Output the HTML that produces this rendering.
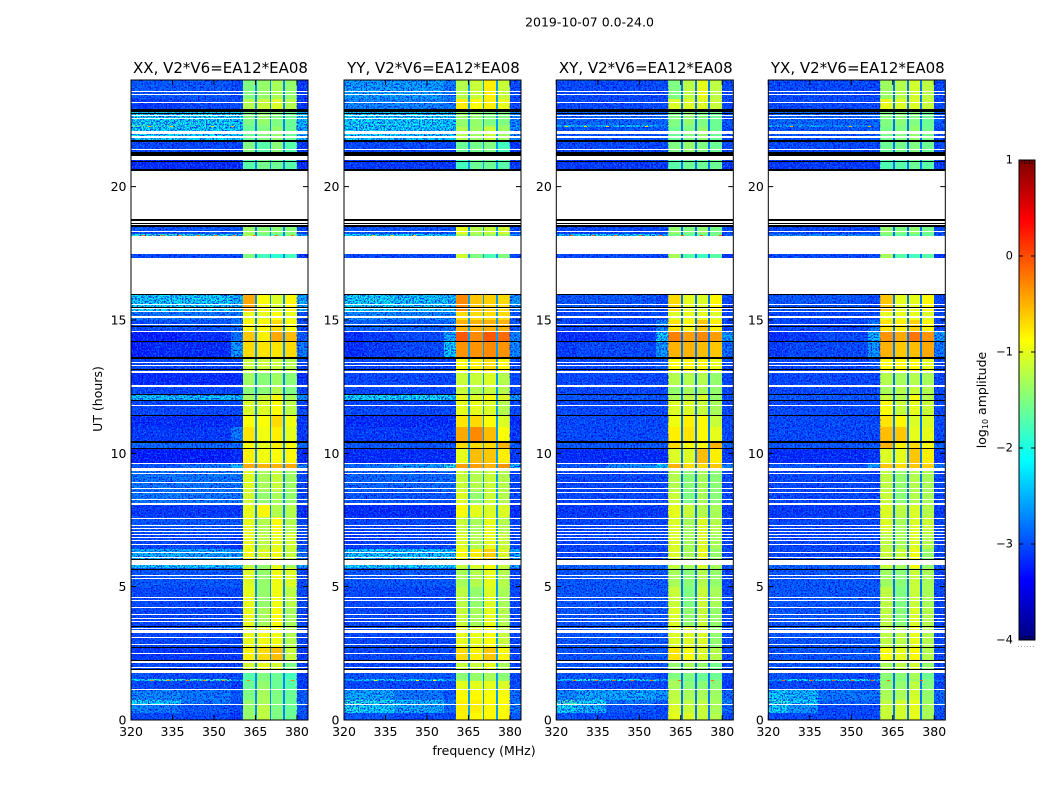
<!DOCTYPE html>
<html lang="en">
<head>
<meta charset="utf-8">
<title>2019-10-07 0.0-24.0 amplitude spectrograms</title>
<style>
html,body{margin:0;padding:0;background:#fff;}
svg{display:block;}
text{font-family:"DejaVu Sans","Liberation Sans",sans-serif;fill:#000;}
</style>
</head>
<body>
<svg id="chart" xmlns="http://www.w3.org/2000/svg" width="1050" height="800" viewBox="0 0 1050 800">
<defs>
<filter id="speckleLight" x="0" y="0" width="100%" height="100%" color-interpolation-filters="sRGB">
<feTurbulence type="fractalNoise" baseFrequency="0.62" numOctaves="2" seed="4"/>
<feColorMatrix type="matrix" values="0 0 0 0 0  0 0 0 0 0.62  0 0 0 0 1  6 0 0 0 -3"/>
</filter>
<filter id="speckleDark" x="0" y="0" width="100%" height="100%" color-interpolation-filters="sRGB">
<feTurbulence type="fractalNoise" baseFrequency="0.62" numOctaves="2" seed="11"/>
<feColorMatrix type="matrix" values="0 0 0 0 0  0 0 0 0 0  0 0 0 0 0.9  6 0 0 0 -2.8"/>
</filter>
</defs>
<text x="589.5" y="26.5" font-size="12.5" text-anchor="middle">2019-10-07 0.0-24.0</text>
<text x="484" y="755" font-size="12.5" text-anchor="middle">frequency (MHz)</text>
<text x="0" y="0" font-size="12.5" text-anchor="middle" transform="translate(102 399) rotate(-90)">UT (hours)</text>
<text x="0" y="0" font-size="12.5" text-anchor="middle" transform="translate(986 400) rotate(-90)">log<tspan font-size="8" dy="2">10</tspan><tspan dy="-2"> amplitude</tspan></text>
<g id="panels"></g>
<g id="colorbar"></g>
</svg>
<script>
// ---- shared axis data ----
const panelTitles = ["XX, V2*V6=EA12*EA08", "YY, V2*V6=EA12*EA08", "XY, V2*V6=EA12*EA08", "YX, V2*V6=EA12*EA08"];
const hourTicks = [0, 5, 10, 15, 20];
const freqTicks = [320, 335, 350, 365, 380];
const colorbarTicks = [1, 0, -1, -2, -3, -4];
const freqEdges = [320, 327, 338, 356, 360.4, 365, 365.7, 370.2, 370.7, 375, 375.6, 380, 384];
const hourEdges = [0,.25,.55,.75,1.15,1.47,1.53,1.85,2.25,2.7,3.5,4.2,5,5.7,5.85,6.4,7,7.6,8.15,8.6,9.35,9.65,10.2,10.45,11,11.45,12,12.2,12.55,13.05,13.6,14.2,14.6,15,15.3,16,17.33,17.49,18.16,18.24,18.55,20.6,21.25,21.75,22.25,22.3,22.9,23.3,24];
// flagged time ranges, in hours, shared by all polarisations
const whiteBlocks = [[20.61,18.5],[18.16,17.49],[17.33,15.99],[21.15,21.0],[6.0,5.83],[9.46,9.33],[8.15,8.08],[3.36,3.28],[2.2,2.12],[1.9,1.78],[22.07,21.99],[15.15,15.09],[13.07,13.0],[12.57,12.49]];
const whiteLines = [23.56,23.45,23.15,22.67,22.56,21.88,21.83,21.41,18.34,15.6,15.42,15.33,14.84,14.58,13.41,13.28,11.8,9.63,9.23,8.92,8.69,8.52,8.27,7.56,7.3,7.2,7.09,6.96,6.83,6.73,6.57,6.27,6.1,5.44,5.31,4.6,4.48,4.22,3.96,3.81,3.71,3.43,3.08,2.83,2.48,1.99,1.16,.58];
const blackBlocks = [[22.9,22.8],[22.78,22.72],[21.75,21.68],[21.3,21.16],[20.65,20.59],[18.78,18.7],[18.65,18.59],[18.55,18.5],[15.99,15.96],[13.62,13.55],[10.47,10.39]];
const blackLines = [20.96,15.49,14.76,14.19,13.15,12.2,12.0,11.44,10.19,6.02,5.65,3.51,2.74,2.25,1.9];
// narrowband interference on single rows: panel index, hour, log10 amplitude, frequencies
const rfiRows = [
[0, 1.5, -0.3, [327,333,340,346,353,362,378]],
[0, 18.2, -0.2, [324,331,337,344,350,357,364,372,378]],
[0, 22.27, -0.6, [326,334,349,356]],
[1, 1.5, -0.9, [331,346,352]],
[1, 18.2, -0.6, [330,337,345]],
[2, 1.5, -0.2, [326,334,340,347,354,364,376]],
[2, 18.2, -0.1, [325,333,341,350,357,365,372,379]],
[2, 22.27, -0.7, [323,330,338,352]],
[3, 1.5, -0.1, [325,335,343,350,357,363,375]],
[3, 22.27, -0.5, [328,349,356]]
];
// log10 amplitude by time segment: 320-327, 327-338, 338-356, 356-360, four bright sub-bands, 380-384
const xxLevels = [
[-3,-3,-3,-3.1,-1.4,-1.2,-1.5,-1.6,-3],
[-2.6,-2.7,-2.9,-3,-1.4,-1.2,-1.5,-1.6,-2.9],
[-2.1,-2.2,-2.7,-3,-1.4,-1.3,-1.5,-1.6,-2.8],
[-2.6,-2.6,-2.7,-2.9,-1.5,-1.3,-1.5,-1.6,-2.9],
[-3,-3,-3,-3.1,-1.6,-1.4,-1.6,-1.7,-3.1],
[-2.2,-1.8,-1.8,-2.4,-1.7,-1.5,-1.6,-1.7,-3],
[-2.9,-3,-3,-3,-1.7,-1.5,-1.6,-1.8,-3.1],
[-3,-3,-3,-3,-1.1,-1,-1.1,-1.5,-3.1],
[-3.1,-3.1,-3.1,-3.1,-.8,-.7,-.55,-1.15,-3.1],
[-3,-3,-3,-3,-1,-.95,-.95,-1.25,-3],
[-3,-3,-3,-3,-1,-1.3,-.9,-1.3,-3],
[-3,-3,-3,-3,-1,-1.4,-.95,-1.2,-3],
[-2.9,-2.9,-2.9,-2.9,-1.05,-1.4,-.95,-1.05,-3],
[-2.2,-2.2,-2.2,-2.2,-1.2,-1.4,-1,-1.3,-2.4],
[-2.35,-2.35,-2.4,-2.5,-.95,-1.05,-.95,-1.15,-2.7],
[-3,-3,-3,-3.1,-1,-1.2,-1,-1.1,-3],
[-2.9,-2.9,-2.9,-2.9,-1,-1.25,-.9,-1.25,-3],
[-3.1,-3.1,-3.1,-3.1,-1,-.85,-1.25,-1.25,-3.2],
[-2.7,-2.7,-2.7,-2.7,-1.1,-1.4,-1.3,-1.4,-3],
[-2.7,-2.7,-2.7,-2.7,-1.05,-1.3,-1.15,-1.35,-3],
[-2.9,-2.9,-2.7,-2.3,-.45,-.5,-.5,-.45,-2.6],
[-3.3,-3.3,-3.3,-3.2,-.8,-.95,-.9,-.85,-3.2],
[-2.8,-2.8,-2.8,-2.8,-.9,-1,-.8,-.9,-2.8],
[-3.1,-3.1,-3.1,-2.7,-.75,-.95,-.8,-1,-3.1],
[-3.2,-3.2,-3.2,-3.1,-.9,-.9,-.7,-.95,-3.1],
[-3,-3,-3,-3,-1.05,-1.05,-.9,-1.2,-3],
[-2.25,-2.25,-2.25,-2.3,-1.3,-1.15,-.85,-1.3,-2.6],
[-3,-3,-3,-3,-1.45,-1.45,-1.25,-1.5,-3],
[-3.2,-3.2,-3.2,-3.2,-1.35,-1.45,-1.35,-1.45,-3.2],
[-3,-3,-3,-3,-1.15,-1.15,-1.15,-1.25,-3],
[-3.3,-3.2,-3.2,-2.5,-.7,-.75,-.75,-.7,-2.7],
[-3.3,-3.3,-3.2,-2.7,-.6,-.8,-.45,-.55,-2.9],
[-3,-2.9,-2.9,-2.7,-.85,-.85,-.7,-.9,-3],
[-2.7,-2.7,-2.7,-2.7,-1,-1,-.9,-1,-3],
[-2.15,-2.15,-2.15,-2.3,-.45,-.9,-1.05,-.85,-2.4],
null,
[-3,-3,-3,-3,-1.5,-1.8,-1.9,-1.8,-3.1],
null,
[-1.9,-1.8,-1.9,-2.2,-1.3,-1.6,-1.7,-1.5,-2.5],
[-2.9,-2.9,-2.9,-2.9,-1.35,-1.45,-1.45,-1.45,-3],
null,
[-3.2,-3.2,-3.2,-3.2,-1.7,-1.55,-1.6,-1.7,-3.2],
[-3,-3,-3,-3,-1.5,-1.7,-1.45,-1.7,-3.1],
[-2.1,-2.1,-2.1,-2.15,-1.6,-1.5,-1.4,-1.6,-2.4],
[-1.8,-1.9,-2,-2.1,-1.6,-1.5,-1.5,-1.6,-2.3],
[-2.05,-2.05,-2.05,-2.1,-1.5,-1.4,-1.5,-1.6,-2.3],
[-3.1,-3.1,-3,-3,-1.25,-1.15,-1.05,-1.25,-3.1],
[-2.9,-2.9,-2.9,-3,-1.5,-1.4,-1.3,-1.4,-3.1]
];
const yyLevels = [
[-2.9,-2.9,-3,-3,-.8,-.85,-.85,-.85,-2.9],
[-2,-2.15,-2.4,-2.8,-.8,-.8,-.85,-.9,-2.7],
[-1.9,-2,-2.3,-2.7,-.8,-.8,-.85,-.9,-2.7],
[-2.4,-2.4,-2.7,-2.9,-.85,-.85,-.9,-.9,-2.8],
[-3,-3,-3,-3,-1,-1,-1,-1.05,-3],
[-2.4,-2.2,-2.2,-2.5,-1.4,-1.4,-1.3,-1.4,-2.9],
[-2.9,-2.9,-2.9,-2.9,-1.45,-1.4,-1.3,-1.45,-3],
[-3,-3,-3,-3,-1.15,-1.15,-1,-1.3,-3],
[-3,-3,-3,-3,-.7,-.8,-.6,-.85,-3],
[-3,-3,-3,-3,-1,-1,-.9,-1.15,-3],
[-3,-3,-3,-3,-1.15,-1.3,-1,-1.25,-3],
[-3,-3,-3,-3,-1.2,-1.4,-1.05,-1.3,-3],
[-2.9,-2.9,-2.9,-2.9,-1.3,-1.25,-1,-1.25,-3],
[-2.1,-2.1,-2.1,-2.1,-1.15,-1.05,-.9,-1.15,-2.4],
[-2.2,-2.2,-2.2,-2.25,-.9,-.8,-.65,-1.05,-2.4],
[-3.1,-3,-3,-3,-1.05,-1.25,-1,-1.15,-3],
[-3,-3,-3,-3,-1.15,-1.3,-1,-1.25,-3],
[-3.2,-3.2,-3.2,-3.2,-.9,-1,-1.05,-1.05,-3.2],
[-2.9,-2.9,-2.9,-2.9,-1.05,-1.4,-1.15,-1.25,-3],
[-2.8,-2.8,-2.8,-2.8,-1.15,-1.25,-1.15,-1.25,-3],
[-2.8,-2.7,-2.5,-1.9,-.4,-.4,-.5,-.35,-2.3],
[-3.2,-3.2,-3.2,-3.2,-1,-.55,-.6,-.8,-3.1],
[-2.9,-2.9,-2.9,-2.9,-.7,-.7,-.7,-.5,-2.9],
[-3.1,-3.1,-3.1,-3.1,-.45,-.3,-.55,-.9,-3.1],
[-3.2,-3.2,-3.2,-3.2,-.75,-.7,-.9,-1.05,-3.2],
[-3,-3,-3,-3,-1,-1,-1.05,-1.25,-3],
[-2.1,-2.1,-2.1,-2.2,-1,-1.05,-.9,-1.05,-2.5],
[-3,-3,-3,-3,-1.15,-1.25,-1.15,-1.25,-3],
[-3,-3,-3,-3,-1.15,-1.15,-1.05,-1.25,-3],
[-3,-3,-3,-3,-.9,-.8,-.7,-.9,-3],
[-3.2,-3.1,-3,-2.2,-.35,-.35,-.3,-.35,-2.6],
[-3.2,-3.1,-3,-2.4,-.05,-.3,-.05,-.15,-2.6],
[-2.8,-2.8,-2.8,-2.7,-.5,-.5,-.5,-.5,-2.9],
[-2.6,-2.6,-2.6,-2.6,-.7,-.7,-.7,-.7,-2.9],
[-2.1,-2.1,-2.2,-2.3,-.3,-.6,-.65,-.7,-2.5],
null,
[-3,-3,-3,-3,-1.1,-1.5,-1.75,-1.5,-3],
null,
[-2.1,-2.1,-2.1,-2.3,-1.3,-1.4,-1.4,-1.35,-2.6],
[-2.9,-2.9,-2.9,-2.9,-1,-1.25,-1.15,-1.1,-3],
null,
[-3.1,-3.1,-3.1,-3.1,-1.8,-1.6,-1.6,-1.7,-3.1],
[-3,-3,-3,-3,-1.6,-1.55,-1.5,-1.8,-3.1],
[-2.15,-2.15,-2.2,-2.25,-1.25,-1.35,-1.15,-1.35,-2.6],
[-2,-2,-2.1,-2.2,-1.4,-1.4,-1.35,-1.4,-2.5],
[-2.1,-2.1,-2.1,-2.2,-1.4,-1.4,-1.5,-1.5,-2.6],
[-2.6,-2.6,-2.6,-2.7,-.8,-.9,-.8,-1,-3],
[-2.45,-2.45,-2.45,-2.7,-1.25,-1.15,-.8,-1.15,-3]
];
const xyLevels = [
[-2.9,-3,-3,-3,-1,-1.05,-1.15,-1.25,-3],
[-2.1,-2.35,-2.9,-3,-1.05,-1.15,-1.15,-1.3,-2.8],
[-1.8,-2.05,-2.7,-2.9,-1.15,-1.2,-1.2,-1.3,-2.6],
[-2.6,-2.4,-2.4,-2.5,-1.2,-1.3,-1.3,-1.35,-2.8],
[-3,-3,-3,-3,-1.3,-1.45,-1.45,-1.45,-3.1],
[-2.3,-1.9,-2,-2.4,-1.4,-1.55,-1.6,-1.5,-3],
[-2.9,-2.9,-2.9,-3,-1.5,-1.5,-1.6,-1.6,-3],
[-2.9,-2.9,-2.9,-2.9,-1.4,-1.3,-1.4,-1.55,-3],
[-2.9,-2.9,-2.9,-2.9,-.75,-.9,-1.05,-1.25,-3],
[-2.9,-2.9,-2.9,-2.9,-1.05,-1.05,-1.05,-1.4,-3],
[-2.9,-2.9,-2.9,-2.9,-1.05,-1.4,-1.15,-1.4,-3],
[-2.9,-2.9,-2.9,-2.9,-1.15,-1.5,-1.15,-1.3,-3],
[-2.9,-2.9,-2.9,-2.9,-1.3,-1.45,-1.25,-1.4,-3],
[-2.8,-2.8,-2.8,-2.8,-1.15,-1.3,-1.05,-1.3,-2.9],
[-3,-3,-3,-3,-1.05,-1.3,-1,-1.4,-3],
[-3,-3,-3,-3,-1.05,-1.3,-1.05,-1.3,-3],
[-3,-3,-3,-3,-1.05,-1.3,-1.05,-1.25,-3],
[-3.1,-3.1,-3.1,-3.1,-1,-1.15,-1.25,-1.3,-3.1],
[-3,-3,-3,-3,-1.15,-1.5,-1.3,-1.45,-3],
[-3,-3,-3,-3,-1.25,-1.45,-1.3,-1.45,-3],
[-2.9,-2.9,-2.6,-2.2,-.5,-.7,-.7,-.6,-2.6],
[-3.2,-3.2,-3.2,-3.2,-1.05,-1.05,-.55,-.8,-3.1],
[-2.9,-2.9,-2.9,-2.9,-.7,-.9,-.9,-.5,-2.8],
[-3,-3,-3,-3,-.8,-.75,-.85,-1,-3],
[-3,-3,-3,-3,-.95,-.8,-.85,-1.15,-3],
[-3,-3,-3,-3,-1.05,-1.05,-1.15,-1.3,-3],
[-2.9,-2.9,-2.9,-2.9,-1.3,-1.2,-1.05,-1.4,-3],
[-3,-3,-3,-3,-1.4,-1.3,-1.3,-1.4,-3],
[-3,-3,-3,-3,-1.25,-1.25,-1.25,-1.4,-3],
[-3,-3,-3,-2.9,-.9,-.85,-.85,-1,-3],
[-3.1,-3,-3,-2.5,-.5,-.5,-.55,-.6,-2.8],
[-3.2,-3.2,-3.1,-2.2,-.25,-.4,-.3,-.4,-2.5],
[-3,-3,-3,-2.6,-.75,-.85,-.6,-.8,-3],
[-3,-3,-3,-3,-1.05,-1,-1,-1.05,-3],
[-2.9,-2.9,-2.9,-3,-.7,-1,-1.05,-.85,-3],
null,
[-3,-3,-3,-3,-1.3,-1.7,-1.8,-1.7,-3.1],
null,
[-2.3,-2,-2.1,-2.4,-1.55,-1.65,-1.65,-1.55,-2.9],
[-3,-3,-3,-3,-1.4,-1.5,-1.4,-1.55,-3],
null,
[-3.1,-3.1,-3.1,-3.1,-1.7,-1.6,-1.6,-1.6,-3.1],
[-3,-3,-3,-3,-1.5,-1.4,-1.5,-1.6,-3],
[-2.9,-2.9,-2.9,-2.9,-1.6,-1.5,-1.4,-1.6,-3],
[-2.3,-2.4,-2.3,-2.6,-1.5,-1.5,-1.5,-1.6,-2.9],
[-2.8,-2.8,-2.8,-2.8,-1.5,-1.4,-1.5,-1.6,-2.9],
[-3,-3,-3,-3,-1.05,-1.05,-1.05,-1.15,-3],
[-3,-3,-3,-3,-1.5,-1.2,-1,-1.2,-3]
];
const yxLevels = [
[-3,-3,-3,-3,-1.15,-1.1,-1,-1.3,-3],
[-2.1,-2.5,-3,-3,-1.15,-1.1,-1,-1.3,-2.9],
[-1.9,-2.15,-2.8,-2.9,-1.2,-1.1,-1,-1.35,-2.8],
[-2.2,-2.3,-2.7,-2.7,-1.3,-1.3,-1.1,-1.4,-2.8],
[-3,-3,-3,-3,-1.4,-1.4,-1.2,-1.5,-3],
[-2.6,-2.1,-2,-2.4,-1.5,-1.5,-1.4,-1.5,-2.8],
[-2.9,-3,-3,-3,-1.45,-1.45,-1.3,-1.6,-3],
[-2.9,-2.9,-2.9,-2.9,-1.3,-1.2,-1.1,-1.4,-3],
[-2.9,-2.9,-2.9,-2.9,-.9,-1,-.85,-1.25,-3],
[-2.9,-2.9,-2.9,-2.9,-1.2,-1.2,-1,-1.25,-3],
[-2.9,-2.9,-2.9,-2.9,-1.2,-1.45,-1.05,-1.25,-3],
[-2.9,-2.9,-2.9,-2.9,-1.2,-1.5,-1.15,-1.3,-3],
[-2.9,-2.9,-2.9,-2.9,-1.35,-1.45,-1.15,-1.3,-3],
[-2.8,-2.8,-2.8,-2.8,-1.15,-1.3,-.9,-1.4,-2.9],
[-3,-3,-3,-3,-1.15,-1.15,-.95,-1.4,-3],
[-3,-3,-3,-3,-1.2,-1.3,-1.05,-1.25,-3],
[-3,-3,-3,-3,-1.05,-1.3,-1.05,-1.15,-3],
[-3.1,-3.1,-3.1,-3.1,-1.05,-1.2,-1.05,-1.25,-3.1],
[-3,-3,-3,-3,-1.15,-1.45,-1.25,-1.3,-3],
[-3,-3,-3,-3,-1.2,-1.4,-1.25,-1.3,-3],
[-2.9,-2.9,-2.9,-2.5,-.6,-.7,-.6,-.65,-2.7],
[-3.2,-3.2,-3.2,-3.1,-1.05,-1,-.6,-.8,-3.1],
[-2.9,-2.9,-2.9,-2.9,-.5,-.8,-.7,-.9,-2.8],
[-3,-3,-3,-3,-.55,-.6,-1,-1,-3],
[-3,-3,-3,-3,-.75,-.85,-1.05,-1.05,-3],
[-3,-3,-3,-3,-.9,-1.15,-1,-1.15,-3],
[-2.9,-2.9,-2.9,-2.9,-1.15,-1.25,-.9,-1.25,-3],
[-3,-3,-3,-3,-1.3,-1.25,-1.15,-1.25,-3],
[-3,-3,-3,-3,-1.25,-1.3,-1.25,-1.3,-3],
[-3,-3,-3,-2.9,-.9,-.85,-.85,-1,-3],
[-3.1,-3,-3,-2.5,-.5,-.6,-.55,-.45,-2.7],
[-3.2,-3.1,-3,-2.3,-.35,-.45,-.2,-.35,-2.5],
[-3,-3,-3,-2.7,-.75,-.8,-.65,-.85,-3],
[-3,-3,-3,-3,-1,-1,-1,-1.05,-3],
[-2.9,-2.9,-2.9,-3,-.6,-1,-1,-.85,-3],
null,
[-3,-3,-3,-3,-1.3,-1.7,-1.8,-1.7,-3.1],
null,
[-2.6,-2.6,-2.6,-2.7,-1.55,-1.65,-1.65,-1.65,-2.9],
[-3,-3,-3,-3,-1.4,-1.5,-1.4,-1.55,-3],
null,
[-3.1,-3.1,-3.1,-3.1,-1.75,-1.7,-1.6,-1.7,-3.1],
[-3,-3,-3,-3,-1.6,-1.55,-1.5,-1.6,-3],
[-2.9,-2.9,-2.9,-2.9,-1.55,-1.5,-1.4,-1.55,-3],
[-2.4,-2.4,-2.6,-2.7,-1.5,-1.5,-1.45,-1.6,-2.9],
[-2.8,-2.8,-2.8,-2.8,-1.5,-1.45,-1.5,-1.6,-2.9],
[-3,-3,-3,-3,-1,-1.05,-1.05,-1.15,-3],
[-3,-3,-3,-3,-1.35,-1.25,-1.1,-1.2,-3]
];
const gapLevels = [-2.7, -2.6, -2.8, -2.8];
const panelLevels = [xxLevels, yyLevels, xyLevels, yxLevels];

// ---- layout and scales ----
const NS = "http://www.w3.org/2000/svg";
const panelLefts = [131, 344, 556.3, 768.3];
const panelWidth = 177, plotTop = 80, plotBottom = 720;
const hourMax = 24, freqMin = 320, freqMax = 384;
const colMap = [0, 1, 2, 3, 4, "gap", 5, "gap", 6, "gap", 7, 8];
function yScale(h) { return plotBottom - (h / hourMax) * (plotBottom - plotTop); }
function xScale(left, f) { return left + (f - freqMin) / (freqMax - freqMin) * panelWidth; }
function jet(v) {
  const t = Math.min(1, Math.max(0, (v + 4) / 5));
  const c = k => Math.round(255 * Math.min(1, Math.max(0, 1.5 - Math.abs(4 * t - k))));
  return "rgb(" + c(3) + "," + c(2) + "," + c(1) + ")";
}
function make(parent, tag, attrs, txt) {
  const e = document.createElementNS(NS, tag);
  for (const k in attrs) e.setAttribute(k, attrs[k]);
  if (txt !== undefined) e.textContent = txt;
  parent.appendChild(e);
  return e;
}
const panelsRoot = document.getElementById("panels");

panelTitles.forEach(function (title, p) {
  const left = panelLefts[p], right = left + panelWidth;
  const g = make(panelsRoot, "g", {});
  
  
  const t = make(g, "text", { x: left + panelWidth / 2 + 1, y: 73, "font-size": 15, "text-anchor": "middle" }, title);
  
  

  // heatmap cells
  const cells = make(g, "g", { "shape-rendering": "crispEdges" });
  
  
  panelLevels[p].forEach(function (row, r) {
    if (!row) return;
    const y0 = Math.round(yScale(hourEdges[r + 1])), y1 = Math.round(yScale(hourEdges[r]));
    colMap.forEach(function (col, c) {
      const x0 = xScale(left, freqEdges[c]), x1 = xScale(left, freqEdges[c + 1]);
      const v = col === "gap" ? gapLevels[p] : row[col];
      const cell = make(cells, "rect", { x: Math.round(x0), y: y0, width: Math.round(x1) - Math.round(x0), height: Math.max(1, y1 - y0), fill: jet(v) });
      
      
    });
  });

  // receiver noise texture over the quiet parts of the band
  [[320, 360.4], [380, 384]].forEach(function (span) {
    [["speckleDark", 0.85], ["speckleLight", 0.6]].forEach(function (fx) {
      const n = make(g, "rect", { x: xScale(left, span[0]), y: plotTop, width: xScale(left, span[1]) - xScale(left, span[0]), height: plotBottom - plotTop, filter: "url(#" + fx[0] + ")", opacity: fx[1] });
      
      
    });
  });

  // interference spots
  const spots = make(g, "g", { "shape-rendering": "crispEdges" });
  
  
  rfiRows.filter(s => s[0] === p).forEach(function (s) {
    s[3].forEach(function (f) {
      const m = make(spots, "rect", { x: Math.round(xScale(left, f)), y: Math.round(yScale(s[1])), width: 3, height: 1, fill: jet(s[2]) });
      
      
    });
  });

  // flagged data
  const flags = make(g, "g", { "shape-rendering": "crispEdges" });
  
  
  function addFlag(hi, lo, colour) {
    const y0 = Math.round(yScale(hi));
    const y1 = Math.max(y0 + 1, Math.round(yScale(lo)));
    const f = make(flags, "rect", { x: left, y: y0, width: panelWidth, height: y1 - y0, fill: colour });
    
    
  }
  whiteBlocks.forEach(b => addFlag(b[0], b[1], "#fff"));
  whiteLines.forEach(h => addFlag(h + 0.015, h - 0.015, "#fff"));
  blackBlocks.forEach(b => addFlag(b[0], b[1], "#000"));
  blackLines.forEach(h => addFlag(h + 0.015, h - 0.015, "#000"));

  // frame
  const frame = make(g, "rect", { x: left, y: plotTop, width: panelWidth, height: plotBottom - plotTop, fill: "none", stroke: "#000", "stroke-width": 1 });
  
  

  // y ticks
  hourTicks.forEach(function (h) {
    const y = yScale(h);
    const a = make(g, "path", { d: "M" + left + " " + y + "h5M" + right + " " + y + "h-5", stroke: "#000", "stroke-width": 1, fill: "none" });
    
    
    const l = make(g, "text", { x: left - 4.5, y: y + 4.5, "font-size": 12.5, "text-anchor": "end" }, String(h));
    
    
  });
  // x ticks
  freqTicks.forEach(function (f) {
    const x = xScale(left, f);
    const a = make(g, "path", { d: "M" + x + " " + plotBottom + "v-5M" + x + " " + plotTop + "v5", stroke: "#000", "stroke-width": 1, fill: "none" });
    
    
    const l = make(g, "text", { x: x, y: 736, "font-size": 12.5, "text-anchor": "middle" }, String(f));
    
    
  });
});

// ---- colour bar ----
const cbar = document.getElementById("colorbar");
const cbLeft = 1019, cbRight = 1035, cbTop = 160, cbBottom = 640;
function cbY(v) { return cbBottom - (v + 4) / 5 * (cbBottom - cbTop); }
const ramp = make(cbar, "g", { "shape-rendering": "crispEdges" });


for (let i = 0; i < 240; i++) {
  const s = make(ramp, "rect", { x: cbLeft, y: cbTop + i * 2, width: cbRight - cbLeft, height: 2, fill: jet(1 - (i + 0.5) / 48) });
  
  
}
const cbFrame = make(cbar, "rect", { x: cbLeft, y: cbTop, width: cbRight - cbLeft, height: cbBottom - cbTop, fill: "none", stroke: "#000", "stroke-width": 1 });


colorbarTicks.forEach(function (v) {
  const y = cbY(v);
  const a = make(cbar, "path", { d: "M" + cbLeft + " " + y + "h4M" + cbRight + " " + y + "h-4", stroke: "#000", "stroke-width": 1, fill: "none" });
  
  
  const l = make(cbar, "text", { x: 1013, y: y + 3.5, "font-size": 11.5, "text-anchor": "end" }, v < 0 ? "\u2212" + Math.abs(v) : String(v));
  
  
});
const stubs = make(cbar, "path", { d: "M1022 160v4M1024.5 160v4M1027 160v4M1029.5 160v4M1032 160v4M1022 640v-4M1024.5 640v-4M1027 640v-4M1029.5 640v-4M1032 640v-4", stroke: "#000", "stroke-width": 0.6, fill: "none" });


const dots = make(cbar, "path", { d: "M1018 646.5h17", stroke: "#aaa", "stroke-width": 1, "stroke-dasharray": "1 2", fill: "none" });


</script>
</body>
</html>
